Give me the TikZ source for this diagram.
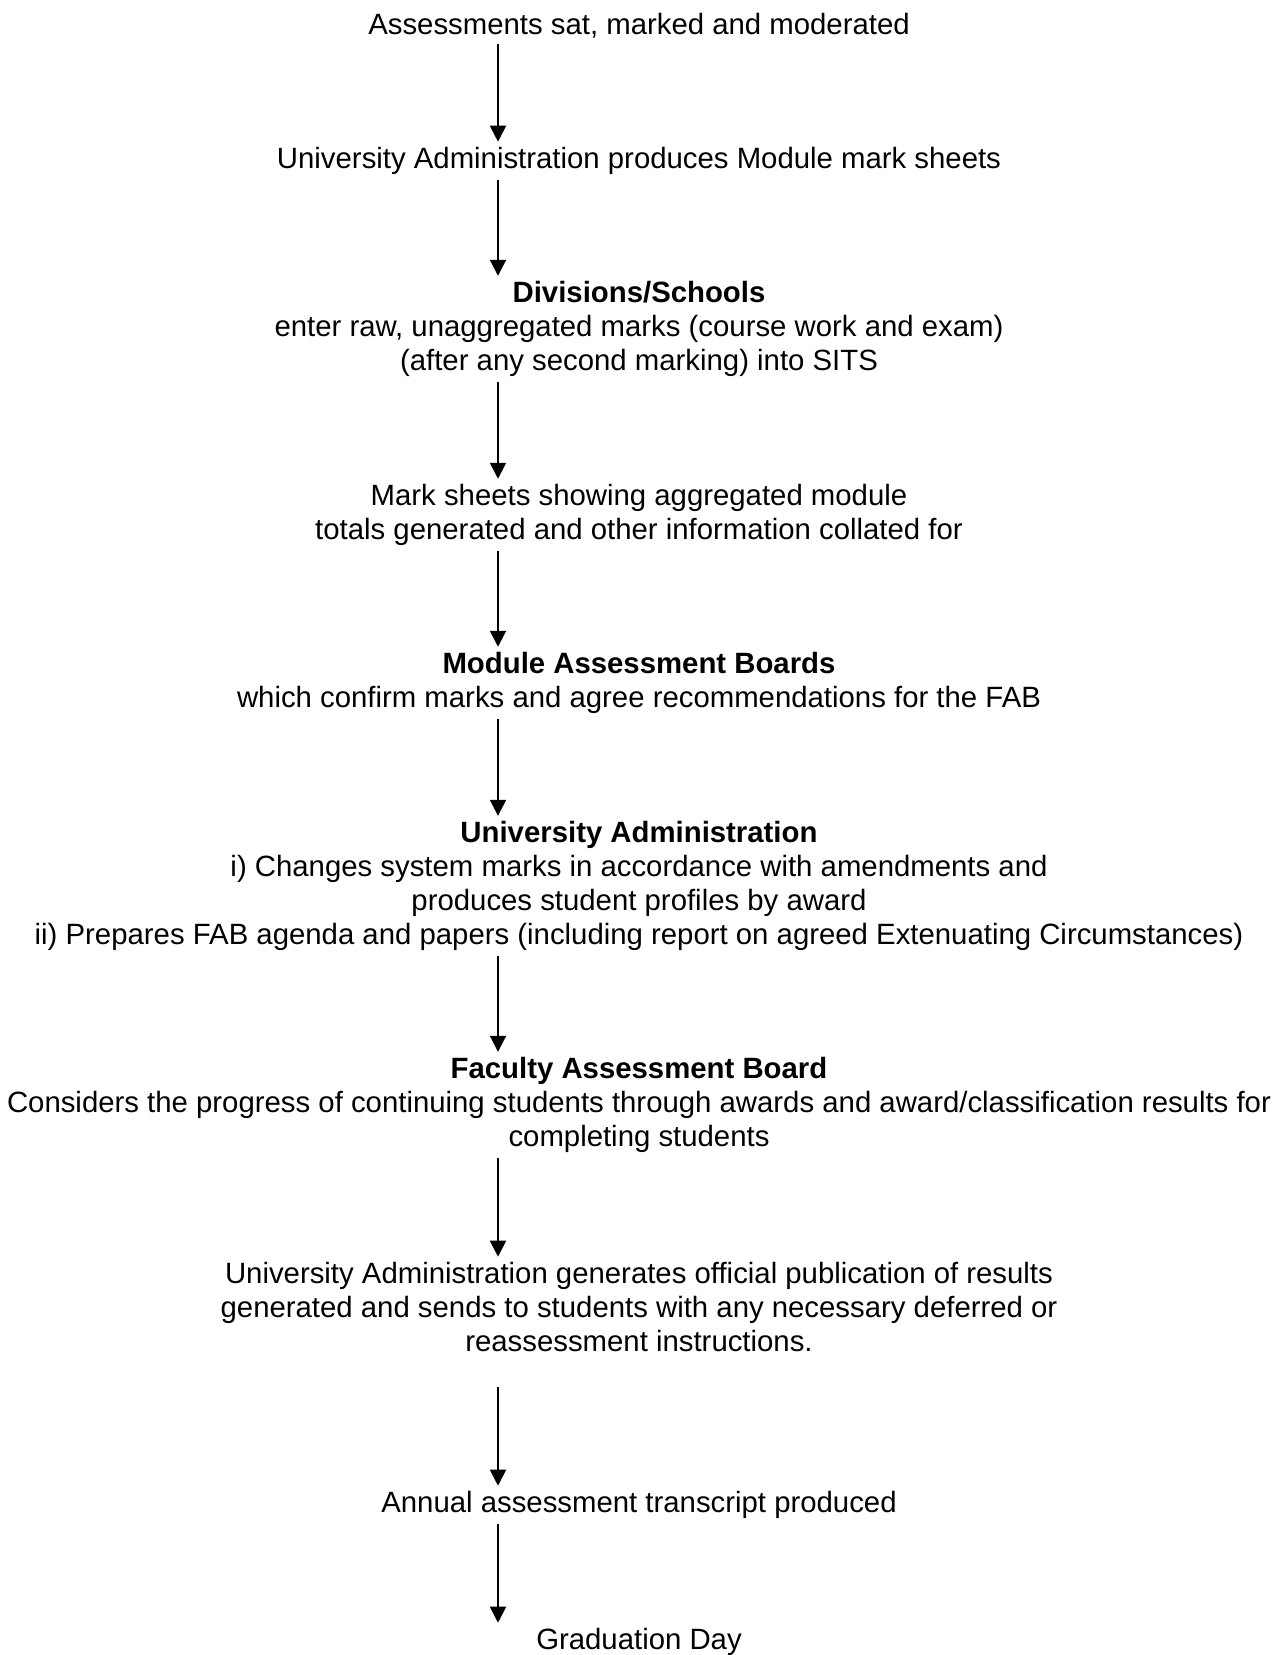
\documentclass[tikz,border=0pt]{standalone}
\usepackage{fontspec}
\setmainfont{Liberation Sans}
\usepackage{tikz}
\usetikzlibrary{arrows.meta, positioning, calc}

\begin{document}
\begin{tikzpicture}[
    x=0.02cm, y=-0.02cm,
    stage/.style={align=center, inner sep=3pt, font=\fontsize{16.7}{19.3}\selectfont},
    flow/.style={line width=1.1pt, -{Triangle[width=0.32cm, length=0.32cm]}}
  ]

    \useasboundingbox (0,0) rectangle (1283,1655);

    % Stages
    \node[stage] (assess) at (639, 26) {Assessments sat, marked and moderated};
    \node[stage] (sheets) at (639, 161) {University Administration produces Module mark sheets};
    \node[stage] (divisions) at (639, 329) {\textbf{Divisions/Schools}\\enter raw, unaggregated marks (course work and exam)\\(after any second marking) into SITS};
    \node[stage] (totals) at (639, 515) {Mark sheets showing aggregated module\\totals generated and other information collated for};
    \node[stage] (mab) at (639, 683) {\textbf{Module Assessment Boards}\\which confirm marks and agree recommendations for the FAB};
    \node[stage] (admin) at (639, 886) {\textbf{University Administration}\\i) Changes system marks in accordance with amendments and\\produces student profiles by award\\ii) Prepares FAB agenda and papers (including report on agreed Extenuating Circumstances)};
    \node[stage] (fab) at (639, 1105) {\textbf{Faculty Assessment Board}\\Considers the progress of continuing students through awards and award/classification results for\\completing students};
    \node[stage] (publish) at (639, 1307) {University Administration generates official publication of results\\generated and sends to students with any necessary deferred or\\reassessment instructions.};
    \node[stage] (transcript) at (639, 1505) {Annual assessment transcript produced};
    \node[stage] (graduation) at (639, 1642) {Graduation Day};

    % Arrows
    \coordinate (axis) at (498, 0);
    \draw[flow] (assess.south -| axis) -- (sheets.north -| axis);
    \draw[flow] (sheets.south -| axis) -- (divisions.north -| axis);
    \draw[flow] (divisions.south -| axis) -- (totals.north -| axis);
    \draw[flow] (totals.south -| axis) -- (mab.north -| axis);
    \draw[flow] (mab.south -| axis) -- (admin.north -| axis);
    \draw[flow] (admin.south -| axis) -- (fab.north -| axis);
    \draw[flow] (fab.south -| axis) -- (publish.north -| axis);
    \draw[flow] ([yshift=-17pt]publish.south -| axis) -- (transcript.north -| axis);
    \draw[flow] (transcript.south -| axis) -- (graduation.north -| axis);

\end{tikzpicture}
\end{document}
